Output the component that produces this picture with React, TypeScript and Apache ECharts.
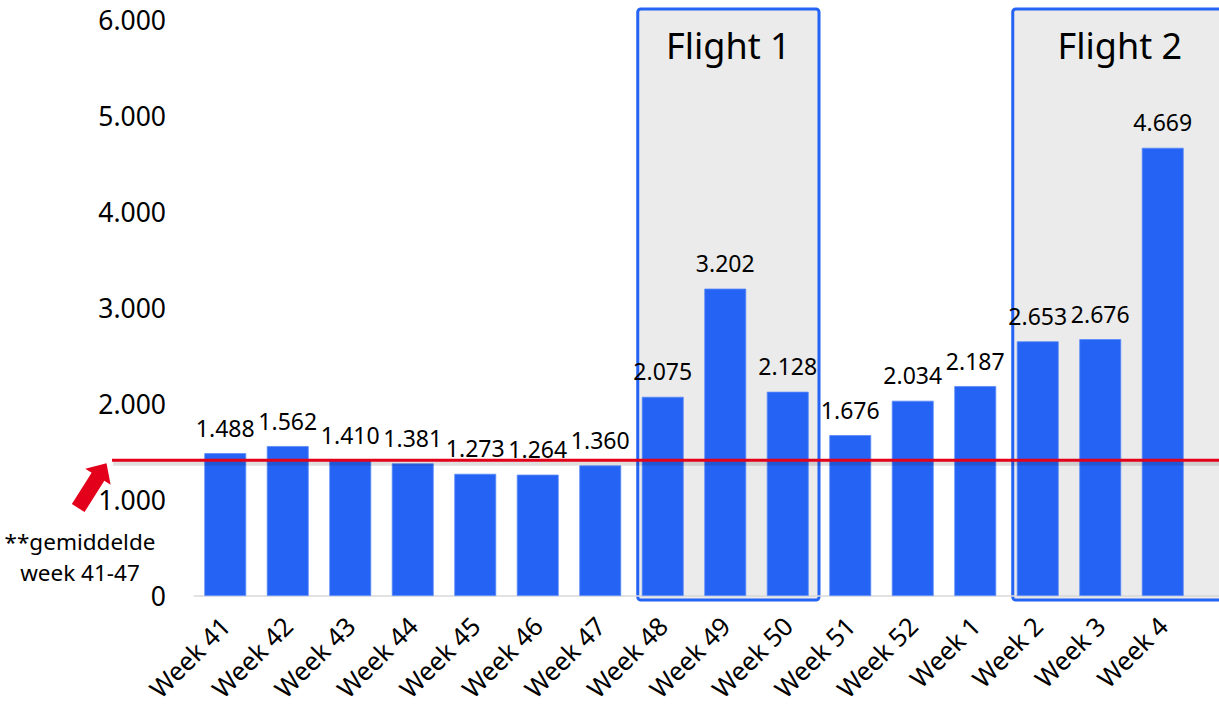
import React, { useEffect, useRef } from "react";
import * as echarts from "echarts";

const categories = [
  "Week 41", "Week 42", "Week 43", "Week 44", "Week 45", "Week 46", "Week 47", "Week 48",
  "Week 49", "Week 50", "Week 51", "Week 52", "Week 1", "Week 2", "Week 3", "Week 4",
];
const values = [1488, 1562, 1410, 1381, 1273, 1264, 1360, 2075, 3202, 2128, 1676, 2034, 2187, 2653, 2676, 4669];
const averageValue = 1414;
const averageLabel = "**gemiddelde\nweek 41-47";
const flights = [
  { name: "Flight 1", from: "Week 48", to: "Week 50" },
  { name: "Flight 2", from: "Week 2", to: "Week 4" },
];
const yMin = 0;
const yMax = 6000;
const yInterval = 1000;

const FONT = "'Noto Sans', sans-serif";
const W = 1219;
const H = 708;

const fmt = (v: number) => {
  const s = Math.round(v).toString();
  return s.length > 3 ? s.slice(0, -3) + "." + s.slice(-3) : s;
};

export default function App() {
  const ref = useRef<HTMLDivElement>(null);
  useEffect(() => {
    if (!ref.current) return;
    const chart = echarts.init(ref.current, null, { renderer: "svg" });
    chart.setOption({
      animation: false,
      backgroundColor: "#ffffff",
      grid: { left: 194, right: 25, top: 20, bottom: 112, containLabel: false, outerBoundsMode: "none" },
      xAxis: {
        type: "category",
        data: categories,
        axisLine: { show: true, lineStyle: { color: "#d9d9d9", width: 1.5 } },
        axisTick: { show: false },
        axisLabel: {
          interval: 0,
          rotate: 45,
          margin: 25,
          color: "#000",
          fontFamily: FONT,
          fontSize: 25.5,
        },
      },
      yAxis: {
        type: "value",
        min: yMin,
        max: yMax,
        interval: yInterval,
        splitLine: { show: false },
        axisLine: { show: false },
        axisTick: { show: false },
        axisLabel: {
          margin: 28,
          color: "#000",
          fontFamily: FONT,
          fontSize: 26.5,
          formatter: (v: number) => fmt(v),
        },
      },
      series: [
        {
          type: "bar",
          data: values,
          barCategoryGap: "33%",
          itemStyle: { color: "#2563F5", borderColor: "#5a8af7", borderWidth: 0.8 },
          label: {
            show: true,
            position: "top",
            distance: 14,
            color: "#000",
            fontFamily: FONT,
            fontSize: 23,
            formatter: (p: any) => fmt(p.value),
          },
          z: 5,
        },
      ],
    });

    const px = (c: string) => chart.convertToPixel({ xAxisIndex: 0 }, c) as number;
    const py = (v: number) => chart.convertToPixel({ yAxisIndex: 0 }, v) as number;
    const band = px(categories[1]) - px(categories[0]);
    const yTop = py(yMax);
    const y0 = py(0);
    const graphics: any[] = [];

    flights.forEach((f) => {
      const left = px(f.from) - 0.4 * band;
      const isLast = f.to === categories[categories.length - 1];
      const right = isLast ? W + 10 : px(f.to) + 0.5 * band;
      graphics.push({
        type: "rect",
        z: 0,
        shape: { x: left, y: yTop - 11, width: right - left, height: y0 + 4 - (yTop - 11), r: 3 },
        style: { fill: "#ebebeb", stroke: "#2563F5", lineWidth: 3 },
      });
      graphics.push({
        type: "text",
        z: 1,
        style: {
          text: f.name,
          x: (left + Math.min(right, W)) / 2 + (isLast ? 4 : 0),
          y: yTop + 25,
          align: "center",
          verticalAlign: "middle",
          fontFamily: FONT,
          fontSize: 36,
          fill: "#000",
        },
      });
    });

    // extend axis line to the right edge
    const lastRight = px(categories[categories.length - 1]) + band / 2;
    graphics.push({
      type: "line",
      z: 1,
      shape: { x1: lastRight, y1: y0, x2: W, y2: y0 },
      style: { stroke: "#d9d9d9", lineWidth: 1.5 },
    });

    const ya = py(averageValue);
    // soft shadow under the average line
    graphics.push({
      type: "line",
      z: 99,
      shape: { x1: 113, y1: ya + 3, x2: W, y2: ya + 3 },
      style: { stroke: "rgba(0,0,0,0.12)", lineWidth: 5 },
    });
    graphics.push({
      type: "line",
      z: 100,
      shape: { x1: 112, y1: ya, x2: W, y2: ya },
      style: { stroke: "#E3001B", lineWidth: 3 },
    });

    // arrow pointing to the average line
    const tipX = 106.5;
    const tipY = ya + 3;
    const ux = 0.534, uy = -0.845;
    const nx = 0.845, ny = 0.534;
    const headLen = 16, headHalf = 15, shaftHalf = 7.5, totalLen = 53;
    const bx = tipX - headLen * ux, by = tipY - headLen * uy;
    const tx = tipX - totalLen * ux, ty = tipY - totalLen * uy;
    graphics.push({
      type: "polygon",
      z: 100,
      shape: {
        points: [
          [tx - shaftHalf * nx, ty - shaftHalf * ny],
          [bx - shaftHalf * nx, by - shaftHalf * ny],
          [bx - headHalf * nx, by - headHalf * ny],
          [tipX, tipY],
          [bx + headHalf * nx, by + headHalf * ny],
          [bx + shaftHalf * nx, by + shaftHalf * ny],
          [tx + shaftHalf * nx, ty + shaftHalf * ny],
        ],
      },
      style: { fill: "#E3001B" },
    });

    graphics.push({
      type: "text",
      z: 100,
      style: {
        text: averageLabel,
        x: 80,
        y: 557,
        align: "center",
        verticalAlign: "middle",
        lineHeight: 31,
        fontFamily: FONT,
        fontSize: 22.5,
        fill: "#000",
      },
    });

    chart.setOption({ graphic: graphics });
    return () => chart.dispose();
  }, []);
  return <div ref={ref} style={{ position: "fixed", left: 0, top: 0, width: W, height: H }} />;
}
